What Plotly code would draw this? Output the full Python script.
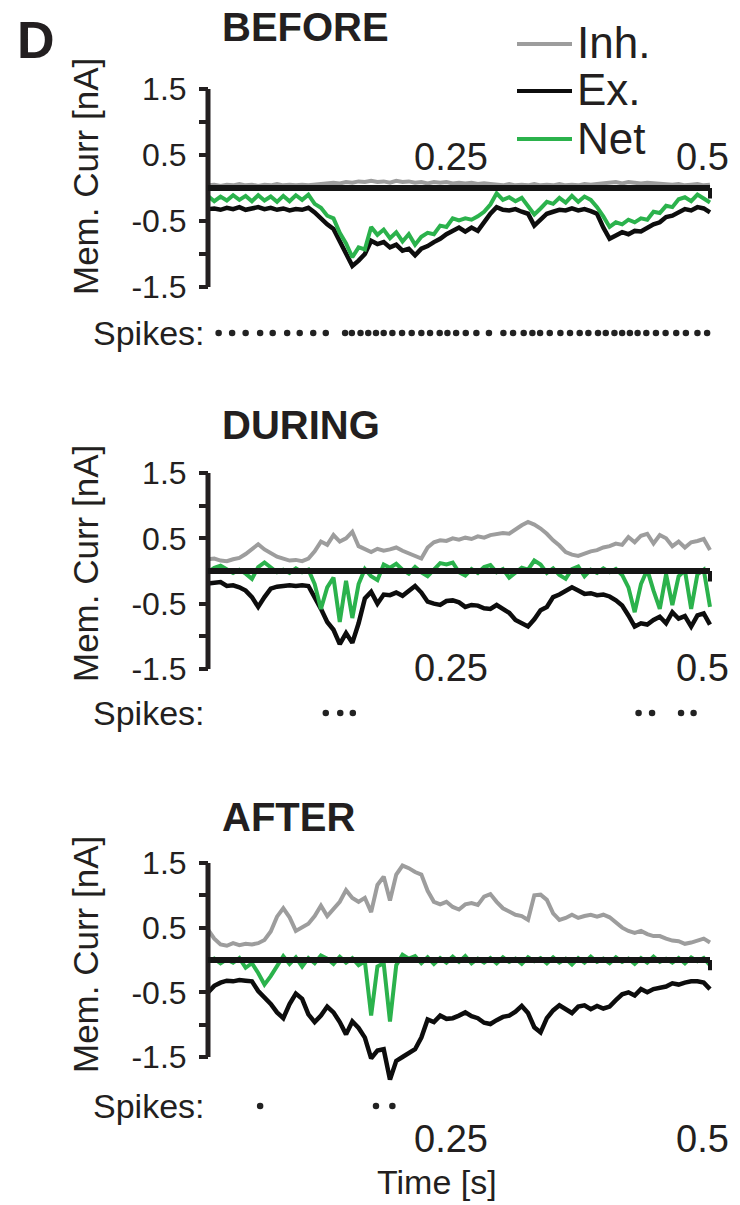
import numpy as np
import plotly.graph_objects as go

W, H = 740, 1205

# ---------------- data (nA) ----------------
before_inh = [0.04, 0.05, 0.03, 0.05, 0.04, 0.06, 0.04, 0.05, 0.03, 0.05,
              0.04, 0.06, 0.04, 0.05, 0.04, 0.05, 0.04, 0.05, 0.06, 0.07,
              0.08, 0.07, 0.09, 0.08, 0.10, 0.09, 0.11, 0.09, 0.10, 0.08,
              0.11, 0.09, 0.10, 0.08, 0.09, 0.07, 0.09, 0.08, 0.09, 0.07,
              0.08, 0.07, 0.08, 0.06, 0.07, 0.06, 0.05, 0.04, 0.06, 0.04,
              0.05, 0.04, 0.06, 0.04, 0.05, 0.04, 0.06, 0.04, 0.05, 0.04,
              0.06, 0.05, 0.06, 0.07, 0.08, 0.09, 0.07, 0.09, 0.08, 0.07,
              0.08, 0.07, 0.06, 0.05, 0.05, 0.06, 0.04, 0.05, 0.06, 0.04,
              0.05]
before_ex = [-0.32, -0.31, -0.33, -0.30, -0.32, -0.29, -0.33, -0.31, -0.29, -0.32,
             -0.30, -0.33, -0.31, -0.34, -0.32, -0.33, -0.30, -0.37, -0.47, -0.55,
             -0.62, -0.80, -1.00, -1.18, -1.10, -1.00, -0.80, -0.85, -0.82, -0.90,
             -0.86, -0.95, -0.92, -1.02, -0.92, -0.88, -0.82, -0.77, -0.70, -0.65,
             -0.60, -0.66, -0.60, -0.65, -0.52, -0.39, -0.29, -0.33, -0.34, -0.32,
             -0.36, -0.39, -0.57, -0.47, -0.39, -0.36, -0.33, -0.34, -0.31, -0.34,
             -0.32, -0.35, -0.39, -0.60, -0.77, -0.72, -0.67, -0.70, -0.65, -0.66,
             -0.61, -0.55, -0.52, -0.44, -0.42, -0.37, -0.32, -0.34, -0.29, -0.31,
             -0.37]
before_net = [-0.12, -0.20, -0.13, -0.19, -0.11, -0.18, -0.12, -0.20, -0.11, -0.19,
              -0.13, -0.21, -0.12, -0.20, -0.11, -0.18, -0.10, -0.24, -0.30, -0.42,
              -0.46, -0.68, -0.84, -1.05, -0.90, -0.93, -0.59, -0.71, -0.63, -0.76,
              -0.67, -0.81, -0.70, -0.86, -0.74, -0.68, -0.70, -0.57, -0.59, -0.46,
              -0.49, -0.46, -0.48, -0.43, -0.36, -0.25, -0.08, -0.18, -0.14, -0.20,
              -0.15, -0.27, -0.40, -0.31, -0.21, -0.24, -0.15, -0.22, -0.12, -0.21,
              -0.13, -0.18, -0.29, -0.43, -0.59, -0.52, -0.55, -0.48, -0.52, -0.46,
              -0.48, -0.36, -0.38, -0.27, -0.29, -0.17, -0.14, -0.20, -0.10, -0.16,
              -0.22]

during_inh = [0.18, 0.19, 0.16, 0.15, 0.18, 0.20, 0.26, 0.33, 0.41, 0.33,
              0.28, 0.22, 0.19, 0.16, 0.17, 0.15, 0.19, 0.30, 0.45, 0.40,
              0.55, 0.45, 0.50, 0.60, 0.38, 0.33, 0.29, 0.34, 0.31, 0.33,
              0.36, 0.31, 0.27, 0.23, 0.19, 0.36, 0.44, 0.47, 0.46, 0.50,
              0.48, 0.51, 0.49, 0.53, 0.51, 0.55, 0.56, 0.58, 0.57, 0.64,
              0.70, 0.75, 0.71, 0.65, 0.57, 0.47, 0.39, 0.29, 0.25, 0.23,
              0.27, 0.30, 0.32, 0.36, 0.38, 0.42, 0.40, 0.52, 0.44, 0.54,
              0.57, 0.42, 0.55, 0.50, 0.38, 0.45, 0.36, 0.44, 0.46, 0.49,
              0.32]
during_ex = [-0.19, -0.18, -0.17, -0.23, -0.22, -0.25, -0.30, -0.40, -0.55, -0.40,
             -0.27, -0.24, -0.23, -0.22, -0.23, -0.22, -0.23, -0.40, -0.58, -0.78,
             -0.90, -1.12, -0.95, -1.10, -0.80, -0.42, -0.32, -0.50, -0.36, -0.37,
             -0.33, -0.38, -0.30, -0.23, -0.33, -0.47, -0.50, -0.52, -0.46, -0.45,
             -0.48, -0.55, -0.52, -0.53, -0.57, -0.58, -0.52, -0.58, -0.64, -0.75,
             -0.81, -0.85, -0.74, -0.60, -0.55, -0.40, -0.36, -0.30, -0.25, -0.30,
             -0.35, -0.34, -0.37, -0.36, -0.39, -0.45, -0.53, -0.68, -0.85, -0.80,
             -0.82, -0.75, -0.70, -0.80, -0.63, -0.73, -0.69, -0.85, -0.68, -0.65,
             -0.82]
during_net = [-0.02, 0.05, 0.08, 0.03, -0.03, 0.02, -0.04, -0.12, 0.06, 0.13,
              0.05, -0.02, 0.02, -0.03, 0.04, -0.02, 0.02, -0.20, -0.58, -0.25,
              -0.10, -0.78, -0.15, -0.72, -0.20, 0.03, -0.08, -0.14, 0.10, 0.05,
              0.11, 0.02, -0.04, 0.06, -0.02, -0.08, 0.02, 0.12, 0.10, 0.13,
              -0.02, -0.07, 0.03, -0.03, 0.06, 0.09, -0.02, 0.03, -0.10, -0.02,
              0.05, 0.02, 0.16, 0.10, -0.03, 0.04, -0.06, -0.12, 0.03, 0.07,
              -0.08, 0.02, -0.03, 0.04, -0.02, 0.03, -0.06, -0.25, -0.63, -0.20,
              0.02, -0.30, -0.58, -0.05, -0.52, -0.08, 0.01, -0.58, -0.05, 0.02,
              -0.55]

after_inh = [0.47, 0.33, 0.24, 0.22, 0.26, 0.23, 0.25, 0.24, 0.26, 0.31,
             0.44, 0.67, 0.80, 0.66, 0.45, 0.51, 0.56, 0.68, 0.84, 0.68,
             0.78, 0.90, 1.08, 0.96, 0.90, 0.96, 0.74, 1.16, 1.29, 0.92,
             1.32, 1.46, 1.42, 1.36, 1.32, 1.07, 0.90, 0.86, 0.90, 0.82,
             0.78, 0.86, 0.88, 0.85, 0.98, 1.02, 0.90, 0.80, 0.75, 0.70,
             0.68, 0.62, 1.00, 1.01, 0.93, 0.72, 0.62, 0.65, 0.70, 0.65,
             0.68, 0.70, 0.67, 0.70, 0.66, 0.58, 0.50, 0.45, 0.42, 0.45,
             0.40, 0.37, 0.37, 0.33, 0.30, 0.29, 0.25, 0.27, 0.30, 0.33,
             0.27]
after_ex = [-0.50, -0.40, -0.35, -0.32, -0.33, -0.31, -0.32, -0.33, -0.48, -0.58,
            -0.68, -0.81, -0.90, -0.68, -0.52, -0.60, -0.84, -0.96, -0.86, -0.72,
            -0.81, -0.96, -1.15, -0.95, -1.05, -1.20, -1.52, -1.40, -1.38, -1.85,
            -1.56, -1.50, -1.44, -1.38, -1.20, -0.92, -0.96, -0.86, -0.91, -0.90,
            -0.86, -0.81, -0.87, -0.90, -0.97, -0.99, -0.93, -0.88, -0.86, -0.80,
            -0.71, -0.82, -1.04, -1.12, -0.90, -0.78, -0.70, -0.77, -0.82, -0.72,
            -0.70, -0.76, -0.71, -0.75, -0.72, -0.62, -0.53, -0.50, -0.55, -0.45,
            -0.50, -0.45, -0.43, -0.41, -0.36, -0.38, -0.35, -0.33, -0.33, -0.35,
            -0.45]
after_net = [-0.03, 0.02, -0.05, 0.01, -0.04, 0.03, -0.12, -0.05, -0.20, -0.38,
             -0.25, -0.08, 0.06, -0.06, 0.04, -0.10, 0.03, -0.05, 0.07, 0.02,
             -0.06, 0.05, -0.04, 0.03, -0.08, -0.02, -0.86, -0.10, -0.05, -0.95,
             -0.08, 0.08, 0.02, 0.06, -0.05, 0.04, -0.06, 0.03, -0.04, 0.05,
             -0.03, 0.06, -0.05, 0.02, -0.04, 0.03, -0.05, 0.04, -0.03, 0.02,
             -0.06, 0.04, -0.02, 0.03, -0.05, 0.04, -0.04, 0.02, -0.07, 0.03,
             -0.04, 0.05, -0.03, 0.02, -0.05, 0.04, -0.03, 0.02, -0.06, 0.03,
             -0.04, 0.05, -0.03, 0.02, -0.04, 0.03, -0.05, 0.04, -0.02, 0.03,
             -0.08]

spikes_before = [0.011, 0.025, 0.039, 0.054, 0.067, 0.082, 0.095, 0.109, 0.122,
                 0.142, 0.149, 0.158, 0.166, 0.174, 0.182, 0.191, 0.201, 0.211,
                 0.221, 0.230, 0.240, 0.248, 0.257, 0.267, 0.278, 0.291,
                 0.306, 0.316, 0.327, 0.336, 0.344, 0.354, 0.365, 0.375, 0.385, 0.394,
                 0.404, 0.412, 0.421, 0.429, 0.437, 0.445, 0.454, 0.464, 0.474,
                 0.485, 0.495, 0.507, 0.517]
spikes_during = [0.122, 0.137, 0.150, 0.446, 0.460, 0.490, 0.503]
spikes_after = [0.054, 0.174, 0.191]

panel_titles = ["BEFORE", "DURING", "AFTER"]
series_names = ["Inh.", "Ex.", "Net"]
y_tick_vals = [-1.5, -1.0, -0.5, 0.5, 1.0, 1.5]
y_tick_text = ["-1.5", "", "-0.5", "0.5", "", "1.5"]
x_tick_vals = [0.25, 0.5]
x_tick_text = ["0.25", "0.5"]
T_END = 0.52

# ---------------- styling / layout ----------------
FONT = "Liberation Sans"
TXT = "#231f20"
COLORS = {"Inh.": "#9d9d9d", "Ex.": "#0d0d0d", "Net": "#2bb24c"}
WIDTHS = {"Inh.": 4.0, "Ex.": 4.5, "Net": 4.0}

panels = [
    dict(inh=before_inh, ex=before_ex, net=before_net, spikes=spikes_before,
         top=89, bot=287, title_y=27, spike_y=333, xlab_y=157, ylab_y=177),
    dict(inh=during_inh, ex=during_ex, net=during_net, spikes=spikes_during,
         top=473, bot=669, title_y=425, spike_y=713, xlab_y=668, ylab_y=564),
    dict(inh=after_inh, ex=after_ex, net=after_net, spikes=spikes_after,
         top=863, bot=1057, title_y=817, spike_y=1106, xlab_y=1139, ylab_y=955),
]

X0_PX, X1_PX = 208, 710          # pixel positions of t=0 and t=T_END
XR = [-0.01, 0.53]
ppt = (X1_PX - X0_PX) / T_END
xdom = [(X0_PX + XR[0] * ppt) / W, (X0_PX + XR[1] * ppt) / W]
YR = [-2.4, 1.6]


def px(x):
    return x / W


def py(y):
    return 1 - y / H


fig = go.Figure()
layout = dict(width=W, height=H, margin=dict(l=0, r=0, t=0, b=0, autoexpand=False),
              paper_bgcolor="white", plot_bgcolor="white", showlegend=False,
              font=dict(family=FONT, color=TXT))
shapes, annotations = [], []

for k, p in enumerate(panels):
    n = "" if k == 0 else str(k + 1)
    xa, ya = "x" + n, "y" + n
    ppn = (p["bot"] - p["top"]) / 3.0
    top_px = p["top"] - (YR[1] - 1.5) * ppn
    bot_px = p["bot"] + (-1.5 - YR[0]) * ppn
    layout["xaxis" + n] = dict(domain=xdom, range=XR, visible=False, anchor=ya)
    layout["yaxis" + n] = dict(
        domain=[py(bot_px), py(top_px)], range=YR, anchor="free", position=px(X0_PX),
        showgrid=False, zeroline=False, showline=False,
        ticks="outside", ticklen=9, tickwidth=4, tickcolor=TXT,
        tickvals=y_tick_vals, ticktext=y_tick_text,
        tickfont=dict(family=FONT, size=32, color=TXT), ticklabelstandoff=6)

    for name, vals in zip(series_names, [p["inh"], p["ex"], p["net"]]):
        t = np.linspace(0, T_END, len(vals))
        fig.add_trace(go.Scatter(x=t, y=vals, mode="lines", name=name,
                                 line=dict(color=COLORS[name], width=WIDTHS[name]),
                                 xaxis=xa, yaxis=ya, hoverinfo="skip"))
    spike_row = -1.5 - (p["spike_y"] - p["bot"]) / ppn
    fig.add_trace(go.Scatter(x=p["spikes"], y=[spike_row] * len(p["spikes"]),
                             mode="markers", marker=dict(size=6.5, color="#222222"),
                             xaxis=xa, yaxis=ya, hoverinfo="skip", cliponaxis=False))

    # y axis spine (only between -1.5 and 1.5), zero line and end tick
    shapes.append(dict(type="line", xref=xa, yref=ya, x0=0, x1=0, y0=-1.5, y1=1.5,
                       line=dict(color=TXT, width=5), layer="above"))
    shapes.append(dict(type="line", xref=xa, yref=ya, x0=0, x1=T_END, y0=0, y1=0,
                       line=dict(color="#151515", width=6), layer="above"))
    shapes.append(dict(type="line", xref=xa, yref=ya, x0=T_END, x1=T_END, y0=0, y1=-0.16,
                       line=dict(color="#151515", width=4), layer="above"))

    # x tick labels
    for v, s in zip(x_tick_vals, x_tick_text):
        annotations.append(dict(text=s, x=v, xref=xa, y=py(p["xlab_y"]), yref="paper",
                                xanchor="center", yanchor="middle", showarrow=False,
                                xshift=12 if v == 0.5 else 2,
                                font=dict(family=FONT, size=38, color=TXT)))
    # panel title
    annotations.append(dict(text="<b>" + panel_titles[k] + "</b>", x=px(220), y=py(p["title_y"]),
                            xref="paper", yref="paper", xanchor="left", yanchor="middle",
                            showarrow=False, font=dict(family=FONT, size=40, color=TXT)))
    # y axis title
    annotations.append(dict(text="Mem. Curr [nA]", x=px(85), y=py(p["ylab_y"]),
                            xref="paper", yref="paper", xanchor="center", yanchor="middle",
                            textangle=-90, showarrow=False,
                            font=dict(family=FONT, size=35, color=TXT)))
    # spikes label
    annotations.append(dict(text="Spikes:", x=px(207), y=py(p["spike_y"]),
                            xref="paper", yref="paper", xanchor="right", yanchor="middle",
                            showarrow=False, font=dict(family=FONT, size=34, color=TXT)))

# panel letter
annotations.append(dict(text="<b>D</b>", x=px(36), y=py(40), xref="paper", yref="paper",
                        xanchor="center", yanchor="middle", showarrow=False,
                        font=dict(family=FONT, size=52, color=TXT)))
# time label
annotations.append(dict(text="Time [s]", x=px(437), y=py(1182), xref="paper", yref="paper",
                        xanchor="center", yanchor="middle", showarrow=False,
                        font=dict(family=FONT, size=34, color=TXT)))
# legend
for name, yy in zip(series_names, [44, 91, 139]):
    shapes.append(dict(type="line", xref="paper", yref="paper", x0=px(517), x1=px(572),
                       y0=py(yy), y1=py(yy), line=dict(color=COLORS[name], width=4)))
    annotations.append(dict(text=name, x=px(575), y=py(yy - 1), xref="paper", yref="paper",
                            xanchor="left", yanchor="middle", showarrow=False,
                            font=dict(family=FONT, size=44, color=TXT)))

layout["shapes"] = shapes
layout["annotations"] = annotations
fig.update_layout(**layout)
fig.write_html("out.html")
